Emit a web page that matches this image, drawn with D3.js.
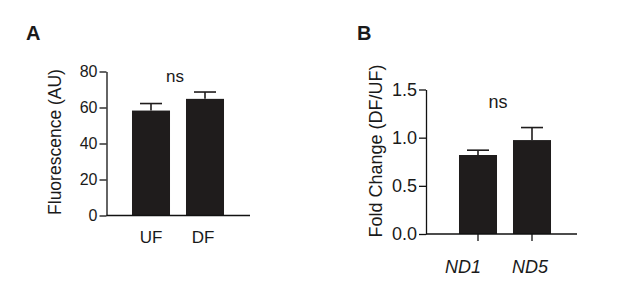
<!DOCTYPE html>
<html><head><meta charset="utf-8">
<script src="https://cdn.jsdelivr.net/npm/d3@7"></script>
<style>body{margin:0;background:#fff}svg{display:block}text{font-family:"Liberation Sans",Arial,sans-serif;fill:#1a1a1a}</style>
</head><body>
<svg id="c" width="617" height="289"></svg>
<script>
// Panel A data
const catsA = ["UF", "DF"];
const meansA = [58.3, 64.8];
const errA = [3.9, 3.8];
const ticksA = [0, 20, 40, 60, 80];
// Panel B data
const catsB = ["ND1", "ND5"];
const meansB = [0.82, 0.975];
const errB = [0.05, 0.13];
const ticksB = [0, 0.5, 1.0, 1.5];

const svg = d3.select("#c");
const barColor = "#1f1c1c";
const sw = 1.3;

function panel(o) {
  const g = svg.append("g");
  const x = d3.scaleBand().domain(o.cats).range(o.xr).paddingInner(0.296).paddingOuter(0.148);
  const y = d3.scaleLinear().domain(o.yd).range(o.yr);
  // bars
  g.selectAll("rect.bar").data(o.means).join("rect")
    .attr("x", (d, i) => x(o.cats[i])).attr("width", x.bandwidth())
    .attr("y", d => y(d)).attr("height", d => y(o.yd[0]) - y(d))
    .attr("fill", barColor);
  // error bars
  const cx = i => x(o.cats[i]) + x.bandwidth() / 2;
  g.selectAll("line.ev").data(o.means).join("line")
    .attr("x1", (d, i) => cx(i)).attr("x2", (d, i) => cx(i))
    .attr("y1", d => y(d)).attr("y2", (d, i) => y(d + o.err[i]))
    .attr("stroke", barColor).attr("stroke-width", 1.6);
  g.selectAll("line.cap").data(o.means).join("line")
    .attr("x1", (d, i) => cx(i) - 11).attr("x2", (d, i) => cx(i) + 11)
    .attr("y1", (d, i) => y(d + o.err[i])).attr("y2", (d, i) => y(d + o.err[i]))
    .attr("stroke", barColor).attr("stroke-width", 1.6);
  // y axis
  const ya = g.append("g").attr("transform", `translate(${o.ax},0)`)
    .call(d3.axisLeft(y).tickValues(o.ticks).tickSize(7).tickSizeOuter(0).tickPadding(2).tickFormat(o.fmt));
  ya.select(".domain").attr("stroke", "#111").attr("stroke-width", sw);
  ya.selectAll(".tick line").attr("stroke", "#111").attr("stroke-width", sw);
  ya.selectAll(".tick text").attr("font-size", o.tickFs).attr("fill", "#1a1a1a")
    .attr("font-family", "Liberation Sans, Arial, sans-serif");
  // x axis baseline
  g.append("line").attr("x1", o.ax).attr("x2", o.xend)
    .attr("y1", y(o.yd[0])).attr("y2", y(o.yd[0]))
    .attr("stroke", "#111").attr("stroke-width", sw);
  if (o.xticks) {
    const xa = g.append("g").attr("transform", `translate(0,${y(o.yd[0])})`)
      .call(d3.axisBottom(x).tickSize(7).tickFormat(""));
    xa.select(".domain").remove();
    xa.selectAll(".tick line").attr("stroke", "#111").attr("stroke-width", sw);
  }
  // category labels
  g.selectAll("text.cat").data(o.cats).join("text")
    .attr("x", (d, i) => cx(i) + o.labDx[i]).attr("y", o.labY)
    .attr("text-anchor", "middle").attr("font-size", o.labFs)
    .attr("font-style", o.italic ? "italic" : "normal").text(d => d);
  // y label
  g.append("text").attr("transform", `translate(${o.ylx},${o.yly}) rotate(-90)`)
    .attr("text-anchor", "middle").attr("dominant-baseline", "central")
    .attr("font-size", o.ylFs).text(o.ylabel);
  // ns
  g.append("text").attr("x", o.nsx).attr("y", o.nsy).attr("text-anchor", "middle")
    .attr("font-size", o.labFs).text("ns");
  // panel letter
  g.append("text").attr("x", o.px).attr("y", 40).attr("font-size", 20)
    .attr("font-weight", "bold").attr("fill", "#111").text(o.letter);
}

panel({cats: catsA, means: meansA, err: errA, ticks: ticksA, fmt: d3.format("d"),
  xr: [124, 232], yd: [0, 80], yr: [215.5, 71.5], ax: 106.5, xend: 250,
  tickFs: 16, labFs: 17, labY: 243, labDx: [0, -2], italic: false,
  ylabel: "Fluorescence (AU)", ylx: 55, yly: 142, ylFs: 17.5,
  nsx: 175, nsy: 82, letter: "A", px: 26, xticks: false});

panel({cats: catsB, means: meansB, err: errB, ticks: ticksB, fmt: d3.format(".1f"),
  xr: [451, 559], yd: [0, 1.5], yr: [234, 89.5], ax: 426, xend: 577,
  tickFs: 18, labFs: 18, labY: 273, labDx: [-15, -2], italic: true,
  ylabel: "Fold Change (DF/UF)", ylx: 376, yly: 151, ylFs: 18,
  nsx: 498, nsy: 108, letter: "B", px: 357, xticks: true});
</script>
</body></html>
